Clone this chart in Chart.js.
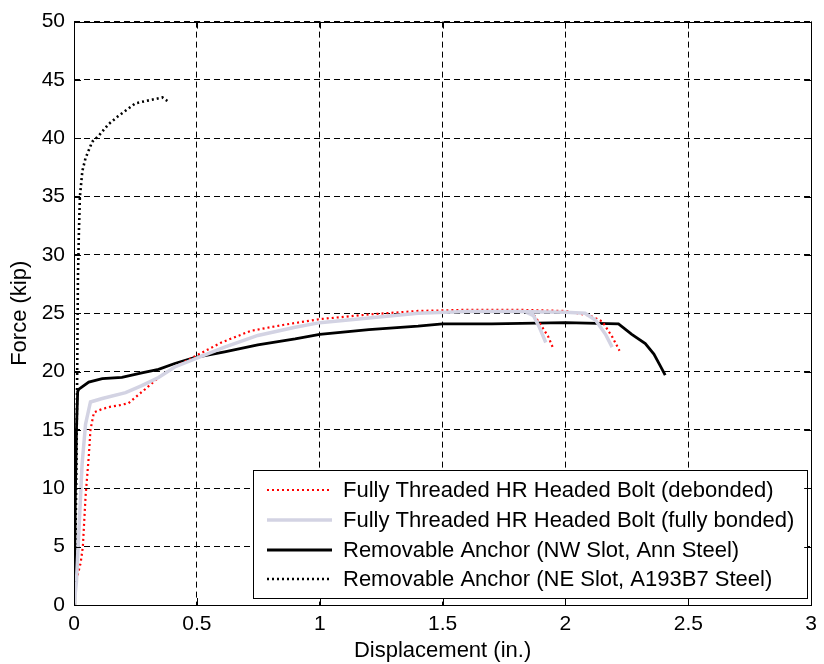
<!DOCTYPE html>
<html>
<head>
<meta charset="utf-8">
<script src="https://cdn.jsdelivr.net/npm/chart.js@4/dist/chart.umd.min.js"></script>
<style>
html,body{margin:0;padding:0;background:#fff;}
#wrap{width:824px;height:664px;position:relative;}
</style>
</head>
<body>
<div id="wrap"><canvas id="c" width="824" height="664"></canvas></div>
<script>
// ---- data ----
const xTicks = [0, 0.5, 1, 1.5, 2, 2.5, 3];
const yTicks = [0, 5, 10, 15, 20, 25, 30, 35, 40, 45, 50];
const seriesLabels = [
  "Fully Threaded HR Headed Bolt (debonded)",
  "Fully Threaded HR Headed Bolt (fully bonded)",
  "Removable Anchor (NW Slot, Ann Steel)",
  "Removable Anchor (NE Slot, A193B7 Steel)"
];
// red dotted (two specimens, null separates branches)
const debondedX = [0,0.007,0.027,0.036,0.047,0.06,0.067,0.081,0.115,0.15,0.182,0.222,0.25,0.29,0.344,0.41,0.5,0.6,0.72,0.85,1.0,1.2,1.4,1.6,1.8,2.0,2.1,2.15,2.19,2.22, 1.86,1.86,1.9,1.93,1.95];
const debondedY = [0,1.9,3.6,5.0,9.3,12.7,15.0,16.5,16.8,17.0,17.1,17.3,17.8,18.5,19.5,20.4,21.4,22.5,23.5,24.0,24.5,24.9,25.2,25.3,25.3,25.2,24.8,24.3,23.0,21.8, null,25.2,24.0,23.0,22.0];
// light gray (fully bonded)
const bondedX = [0,0.01,0.02,0.033,0.047,0.067,0.115,0.21,0.276,0.344,0.41,0.505,0.613,0.748,0.9,1.0,1.2,1.4,1.6,1.8,2.0,2.08,2.123,2.163,2.19, 1.84,1.84,1.87,1.894,1.92];
const bondedY = [0,2.0,6.4,12.1,15.5,17.4,17.7,18.2,18.8,19.5,20.4,21.2,22.1,23.1,23.8,24.2,24.6,25.0,25.15,25.15,25.1,25.0,24.4,23.2,22.1, null,25.1,24.8,23.8,22.5];
// black solid (NW slot)
const nwX = [0,0.003,0.005,0.01,0.015,0.02,0.033,0.06,0.115,0.195,0.276,0.344,0.41,0.49,0.613,0.748,0.9,1.0,1.2,1.4,1.5,1.7,2.0,2.216,2.27,2.325,2.36,2.386,2.406];
const nwY = [0,3.0,8.7,15.0,18.3,18.5,18.7,19.1,19.4,19.5,19.9,20.2,20.7,21.2,21.7,22.3,22.8,23.2,23.6,23.9,24.1,24.1,24.2,24.1,23.2,22.4,21.5,20.5,19.7];
// black dotted (NE slot)
const neX = [0,0.005,0.01,0.013,0.016,0.02,0.024,0.034,0.047,0.074,0.10,0.14,0.18,0.25,0.316,0.36,0.38];
const neY = [0,4.0,12.0,20.0,28.0,32.0,35.0,37.2,38.3,39.7,40.2,41.2,41.9,43.0,43.3,43.5,43.2];

function pts(xs, ys){ return xs.map((x,i)=>({x:x, y:ys[i]})); }

const FONT = "'Liberation Sans', Arial, Helvetica, sans-serif";

const styles = [
  {color:'#ff0000', width:2.2, dash:[2,3]},
  {color:'#d3d3e3', width:3.5, dash:[]},
  {color:'#000000', width:2.8, dash:[]},
  {color:'#000000', width:2.6, dash:[2,3]}
];
const seriesData = [pts(debondedX,debondedY), pts(bondedX,bondedY), pts(nwX,nwY), pts(neX,neY)];
// draw order: gray first (underneath), then red, then black
const order = [1,0,2,3];
const datasets = order.map(i=>({
  label: seriesLabels[i],
  data: seriesData[i],
  showLine: true,
  borderColor: styles[i].color,
  backgroundColor: styles[i].color,
  borderWidth: styles[i].width,
  borderDash: styles[i].dash,
  pointRadius: 0,
  tension: 0,
  spanGaps: false,
  fill: false
}));

const framePlugin = {
  id: 'frame',
  afterDatasetsDraw(chart){
    const {ctx, chartArea:a, scales} = chart;
    ctx.save();
    // legend box
    const lx = 253, ly = 470, lw = 554, lh = 128;
    ctx.fillStyle = '#fff';
    ctx.fillRect(lx, ly, lw, lh);
    ctx.strokeStyle = '#000';
    ctx.lineWidth = 1;
    ctx.setLineDash([]);
    ctx.strokeRect(lx+0.5, ly+0.5, lw, lh);
    ctx.font = '22px ' + FONT;
    ctx.textBaseline = 'middle';
    ctx.textAlign = 'left';
    const rows = [490, 520, 550, 579];
    for (let i=0;i<4;i++){
      const s = styles[i];
      ctx.strokeStyle = s.color;
      ctx.lineWidth = s.width;
      ctx.setLineDash(s.dash);
      ctx.beginPath();
      ctx.moveTo(267, rows[i]);
      ctx.lineTo(332, rows[i]);
      ctx.stroke();
      ctx.setLineDash([]);
      ctx.fillStyle = '#000';
      ctx.fillText(seriesLabels[i], 343, rows[i]+1);
    }
    // frame
    ctx.strokeStyle = '#000';
    ctx.lineWidth = 1;
    ctx.setLineDash([]);
    ctx.strokeRect(Math.round(a.left)+0.5, Math.round(a.top)+0.5, Math.round(a.right-a.left), Math.round(a.bottom-a.top));
    // inner ticks
    const tl = 7;
    ctx.beginPath();
    xTicks.forEach(v=>{
      const px = Math.round(scales.x.getPixelForValue(v))+0.5;
      ctx.moveTo(px, a.bottom); ctx.lineTo(px, a.bottom - tl);
      ctx.moveTo(px, a.top); ctx.lineTo(px, a.top + tl);
    });
    yTicks.forEach(v=>{
      const py = Math.round(scales.y.getPixelForValue(v))+0.5;
      ctx.moveTo(a.left, py); ctx.lineTo(a.left + tl, py);
      ctx.moveTo(a.right, py); ctx.lineTo(a.right - tl, py);
    });
    ctx.stroke();
    ctx.restore();
  }
};

new Chart(document.getElementById('c'), {
  type: 'scatter',
  data: { datasets },
  options: {
    responsive: false,
    animation: false,
    devicePixelRatio: 1,
    layout: { padding: { top: 19, right: 7, left: 0, bottom: 0 } },
    plugins: { legend: { display: false }, tooltip: { enabled: false } },
    scales: {
      x: {
        type: 'linear', min: 0, max: 3,
        afterBuildTicks(s){ s.ticks = xTicks.map(v=>({value:v})); },
        afterFit(s){ s.height = 59; },
        ticks: { color:'#000', font:{family:FONT, size:21}, padding: 7,
                 callback: v => String(v) , maxRotation:0, autoSkip:false},
        grid: { color:'#000', lineWidth:1, drawTicks:false },
        border: { display:false, dash:[6,4] },
        title: { display:true, text:'Displacement (in.)', color:'#000',
                 font:{family:FONT, size:22}, padding:{top:0,bottom:0} }
      },
      y: {
        type: 'linear', min: 0, max: 50,
        afterBuildTicks(s){ s.ticks = yTicks.map(v=>({value:v})); },
        afterFit(s){ s.width = 74; },
        ticks: { color:'#000', font:{family:FONT, size:21}, padding: 9, autoSkip:false },
        grid: { color:'#000', lineWidth:1, drawTicks:false },
        border: { display:false, dash:[6,4] },
        title: { display:true, text:'Force (kip)', color:'#000',
                 font:{family:FONT, size:22}, padding:{top:7,bottom:0} }
      }
    }
  },
  plugins: [framePlugin]
});
</script>
</body>
</html>
